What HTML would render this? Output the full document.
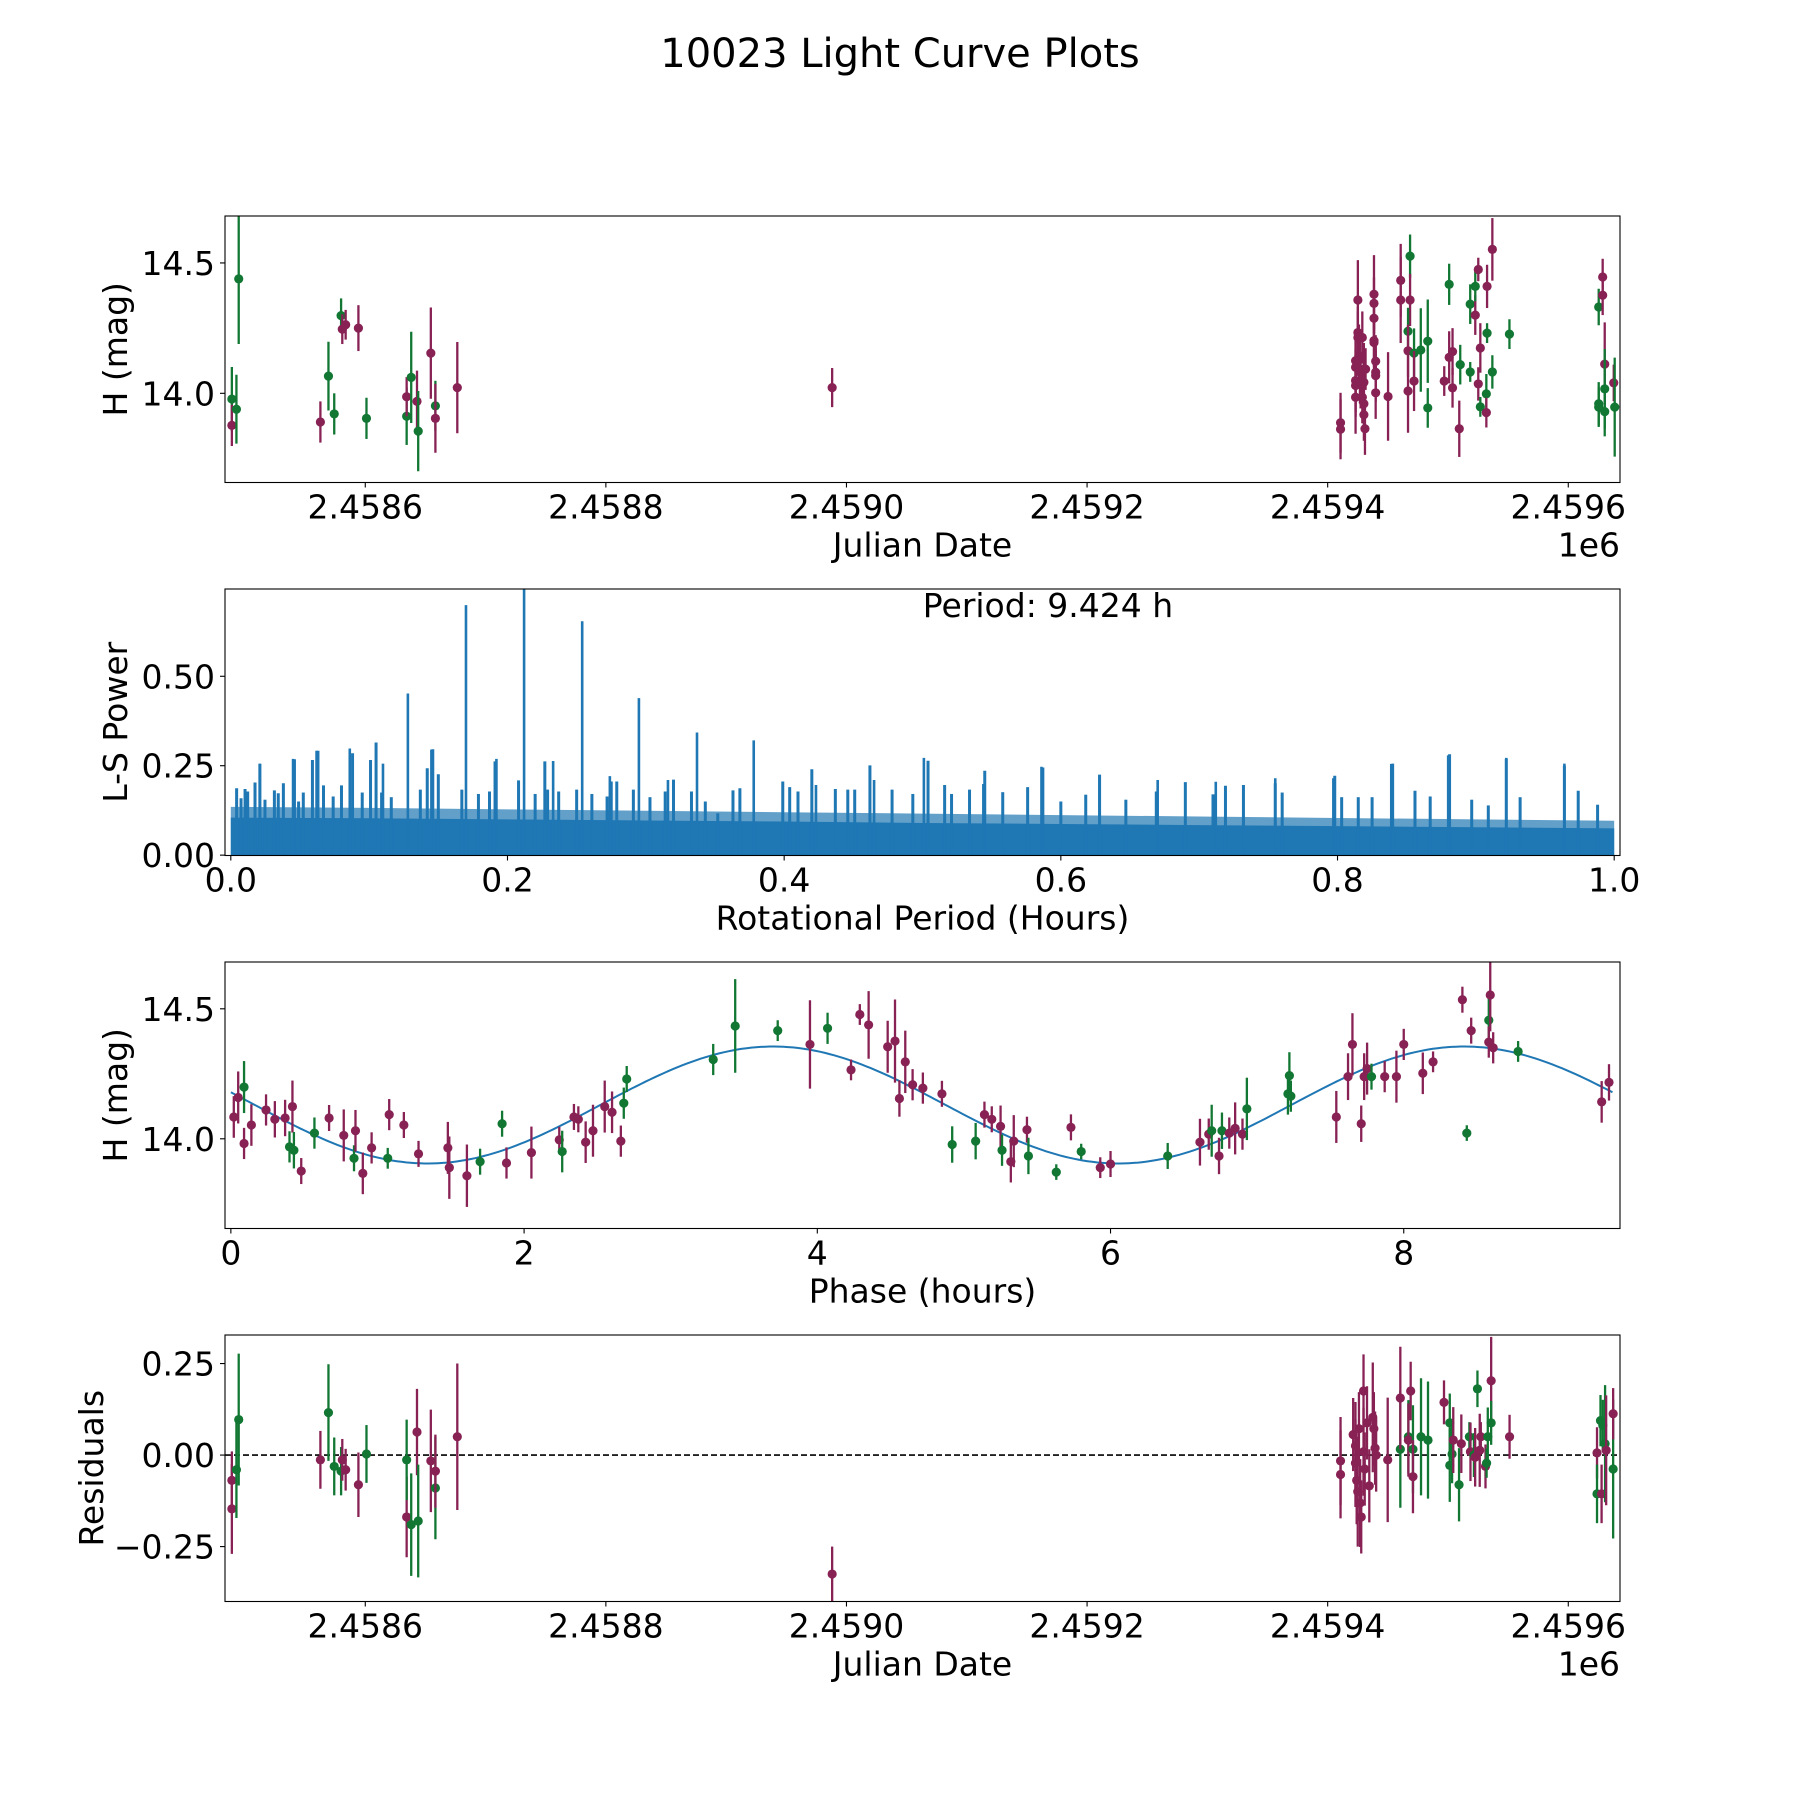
<!DOCTYPE html>
<html><head><meta charset="utf-8"><title>10023 Light Curve Plots</title>
<style>html,body{margin:0;padding:0;background:#fff}svg{display:block;font-family:"DejaVu Sans","Liberation Sans",sans-serif}</style>
</head><body>
<svg id="fig" width="1800" height="1800" viewBox="0 0 1800 1800" xmlns="http://www.w3.org/2000/svg">
<rect width="1800" height="1800" fill="#fff"/>
<text x="900" y="67" font-size="40" text-anchor="middle">10023 Light Curve Plots</text>
</svg>
<script>
// ---- Panel 1: light curve (JD - 2458000) ----
const lcJD=[489.1,489.1,492.9,494.8,562.7,569.4,574.2,579.9,580.9,583.7,594.3,601,634.4,634.4,638.2,643,644,654.5,658.3,658.3,676.5,988.1,
1410.7,1410.7,1423.2,1423.2,1423.2,1423.2,1423.2,1425.1,1425.1,1425.1,1426,1426.8,1427.4,1428.8,1428.8,1430.1,1430.1,1430.1,1430.1,1431,1431.5,
1438.5,1438.5,1438.5,1438.5,1438.5,1439.9,1439.9,1439.9,1439.9,1450.2,1460.7,1460.7,1468.5,1468.5,1466.8,1466.8,1466.8,1471.8,1471.8,1477.4,1483.2,1483.2,
1496.9,1501,1501,1503.8,1503.8,1510.2,1509.4,1518.5,1518.5,1522.7,1522.7,1525.2,1525.2,1526.9,1526.9,1531.9,1531.9,1532.5,1532.5,1536.9,1536.9,1551.1,
1625.3,1628.6,1628.6,1630.3,1630.3,1625.3,1625.3,1630.3,1637.8,1638.6];
const lcMag=[13.978,13.877,13.939,14.439,13.89,14.066,13.921,14.298,14.246,14.263,14.25,13.904,13.912,13.987,14.061,13.969,13.855,14.154,13.952,13.904,14.022,14.022,
13.887,13.862,14.125,14.100,14.049,14.030,13.985,14.358,14.233,14.214,14.144,14.081,14.042,14.214,13.985,14.093,14.042,13.960,13.918,13.864,14.093,
14.38,14.345,14.288,14.202,14.195,14.123,14.081,14.068,14.002,13.988,14.433,14.358,14.526,14.358,14.238,14.163,14.009,14.154,14.047,14.166,14.2,13.944,
14.047,14.138,14.418,14.16,14.021,14.11,13.864,14.342,14.082,14.30,14.41,14.475,14.036,13.948,14.174,13.998,13.926,14.231,14.41,14.082,14.552,14.227,
14.331,14.446,14.376,14.112,14.017,13.96,13.947,13.93,14.04,13.947];
const lcErr=[.123,.079,.132,.25,.079,.132,.079,.066,.057,.057,.088,.079,.11,.075,.175,.118,.154,.175,.096,.132,.175,.075,
.115,.115,.1,.1,.12,.12,.14,.153,.1,.1,.12,.12,.1,.1,.1,.1,.1,.1,.1,.1,.08,
.15,.1,.1,.1,.1,.1,.1,.1,.1,.17,.14,.165,.083,.1,.09,.1,.16,.095,.115,.16,.16,.076,
.057,.1,.079,.09,.076,.076,.108,.076,.038,.076,.057,.045,.064,.038,.095,.076,.057,.038,.083,.064,.12,.057,
.07,.07,.076,.16,.153,.083,.076,.095,.07,.19];
const lcBand="gmggmgggmmmggmgmgmgmmm"+"mmmmmmmmmmmmmmmmmmmmm"+"mmmmmmmmmmmmgmgmmgmgggm"+"mgmmgmggmgmmgmgmgmgmgg"+"mmmggggmgm";

// ---- Panel 2: periodogram ----
const lsSpikeX=[0.128,0.170,0.212,0.254,0.295,0.337,0.378,0.086,0.145,0.192,0.233,0.274,0.062,0.045,0.021,0.110,0.316,0.501,0.586,0.628,0.840,0.880,0.922,0.964,0.797,0.755,0.670,0.712,0.423,0.465,0.544];
const lsSpikeH=[0.452,0.699,0.744,0.654,0.439,0.343,0.321,0.298,0.295,0.269,0.263,0.221,0.292,0.269,0.256,0.256,0.210,0.272,0.247,0.224,0.256,0.279,0.272,0.256,0.215,0.215,0.210,0.205,0.196,0.210,0.199];
const lsMinorX=[.0042,.0074,.0103,.0122,.0175,.021,.0247,.0315,.0343,.038,.046,.049,.0524,.059,.063,.067,.074,.080,.088,.095,.101,.105,.109,.116,.137,.142,.146,.150,.167,.179,.187,.191,.208,.220,.227,.229,.237,.250,.261,.272,.275,.279,.291,.303,.314,.320,.333,.343,.352,
.363,.368,.399,.404,.410,.420,.437,.446,.451,.462,.478,.493,.504,.516,.521,.534,.545,.558,.576,.587,.600,.618,.628,.647,.669,.690,.710,.719,.732,.755,.760,.798,.803,.815,.825,.839,.856,.867,.881,.897,.909,.922,.932,.964,.974,.988];
const lsMinorH=[.187,.159,.185,.178,.203,.255,.155,.181,.173,.201,.268,.150,.175,.266,.292,.195,.164,.195,.285,.175,.266,.315,.175,.162,.183,.243,.296,.226,.183,.171,.178,.262,.209,.171,.262,.183,.178,.183,.171,.164,.206,.206,.183,.162,.178,.211,.178,.150,.117,
.181,.187,.206,.190,.178,.240,.185,.183,.183,.251,.183,.171,.264,.196,.171,.183,.236,.176,.190,.245,.150,.169,.225,.155,.178,.204,.170,.194,.196,.201,.175,.222,.162,.162,.162,.255,.180,.164,.282,.155,.139,.269,.162,.250,.180,.141];
const lsEnvX=[0,0.1,0.2,0.3,0.4,0.5,0.6,0.7,0.8,0.9,1.0];
const lsDense=[0.105,0.103,0.1,0.097,0.094,0.09,0.087,0.084,0.081,0.078,0.075];
const lsUpper=[0.135,0.132,0.128,0.124,0.12,0.116,0.112,0.108,0.104,0.1,0.096];

// ---- Panel 3: phased ----
const phX=[.02,.05,.09,.09,.14,.24,.30,.37,.40,.42,.43,.48,.57,.67,.77,.84,.85,.90,.96,1.07,1.08,1.18,1.28,1.48,1.49,1.61,1.70,1.85,1.88,2.05,2.24,2.26,2.34,2.37,2.42,2.47,2.55,2.60,2.66,2.68,2.70,3.29,3.44,3.73,3.95,4.07,4.23,4.29,4.35,4.48,4.53,4.56,4.60,4.65,4.72,4.85,4.92,5.08,5.14,5.19,5.25,5.26,5.32,5.34,5.43,5.44,5.63,5.73,5.80,5.93,6.00,6.39,6.61,6.67,6.69,6.74,6.76,6.81,6.85,6.90,6.93,7.21,7.22,7.23,7.54,7.62,7.65,7.71,7.73,7.75,7.78,7.87,7.95,8.00,8.13,8.20,8.40,8.43,8.46,8.58,8.58,8.59,8.61,8.78,9.35,9.40];
const phMag=[14.084,14.159,14.199,13.982,14.053,14.111,14.075,14.08,13.969,14.124,13.956,13.876,14.022,14.08,14.013,13.925,14.031,13.867,13.965,13.925,14.093,14.053,13.942,13.965,13.889,13.858,13.912,14.058,13.907,13.947,13.996,13.951,14.084,14.075,13.987,14.031,14.124,14.102,13.991,14.137,14.23,14.305,14.434,14.416,14.363,14.425,14.265,14.478,14.438,14.354,14.376,14.155,14.296,14.208,14.195,14.173,13.978,13.991,14.093,14.075,14.048,13.956,13.912,13.991,14.035,13.934,13.872,14.044,13.951,13.889,13.903,13.934,13.987,14.018,14.031,13.934,14.031,14.022,14.04,14.018,14.115,14.173,14.243,14.164,14.084,14.239,14.363,14.058,14.239,14.27,14.239,14.239,14.239,14.363,14.252,14.296,14.535,14.022,14.416,14.456,14.372,14.553,14.35,14.336,14.142,14.217];
const phErr=[.08,.1,.1,.06,.08,.06,.07,.07,.06,.1,.07,.05,.06,.05,.1,.05,.08,.08,.06,.04,.06,.05,.05,.1,.12,.12,.05,.05,.06,.1,.05,.08,.05,.05,.08,.1,.1,.08,.06,.06,.05,.06,.18,.04,.17,.06,.04,.04,.13,.1,.16,.07,.12,.06,.06,.05,.07,.07,.05,.05,.08,.06,.08,.1,.05,.07,.03,.05,.03,.04,.05,.05,.09,.06,.1,.07,.07,.06,.1,.06,.12,.08,.09,.06,.1,.09,.12,.07,.09,.1,.05,.06,.1,.06,.08,.04,.05,.03,.05,.1,.06,.14,.06,.04,.08,.07];
const phBand="mmgmmmmmgmgmgmmgmmmgmmmmmmggmmmgmmmmmmmgggggmgmmmmmmmmmmggmmmgmmmggmgmmgmmgmgmmmggggmmmmmmgmmmmmmgmgmmmgmmgmgmmgmgmmmm";
const fitMean=14.13, fitAmp=0.225, fitPeriod=9.424, fitT0=2.52;

// ---- Panel 4: residuals ----
const rsJD=[489.1,489.1,492.9,494.8,562.7,569.4,574.2,579.9,580.9,583.7,594.3,601,634.4,634.4,638.2,643,644,654.5,658.3,658.3,676.5,988.1,
1410.7,1410.7,1421.2,1423.1,1423.1,1424.1,1425,1426,1427,1427.9,1429.8,1429.8,1430.8,1432.7,1434.6,1437.5,1438.4,1439.4,1440.3,1449.9,
1460.4,1460.4,1467.1,1467.1,1469,1470.9,1470.9,1477.6,1483.4,1496.7,1501.5,1501.5,1503.4,1504.4,1509.2,1511.1,1517.8,1518.7,1521.6,1522.6,1524.5,1526.4,1527.3,1531.2,1532.1,1533.1,1535.9,1535.9,1551.2,
1623.9,1626.8,1623.9,1627.7,1628.7,1630.6,1631.5,1637.3,1637.3];
const rsVal=[-.069,-.147,-.04,.097,-.013,.116,-.031,-.044,-.013,-.04,-.081,.003,-.169,-.013,-.19,.063,-.18,-.016,-.09,-.044,.05,-.325,
-.016,-.053,.056,.025,-.022,-.069,-.1,.072,-.131,-.169,.175,.009,-.038,.088,-.084,.103,.072,.019,0,-.013,
.016,.156,.05,.041,.175,.016,-.059,.05,.041,.144,.088,-.028,.003,.041,-.081,.031,.05,.009,0,-.006,.181,.013,.05,-.031,-.022,.05,.203,.088,.05,
.006,.094,-.106,-.106,.081,.031,.013,-.038,.113];
const rsErr=[.079,.123,.132,.18,.079,.132,.079,.066,.057,.057,.088,.079,.11,.11,.14,.118,.154,.14,.14,.1,.2,.075,
.12,.12,.1,.12,.12,.12,.15,.1,.12,.1,.1,.12,.1,.1,.1,.15,.1,.1,.1,.17,
.16,.14,.1,.1,.08,.12,.1,.16,.16,.06,.08,.1,.08,.09,.1,.08,.04,.08,.06,.08,.05,.1,.04,.06,.04,.08,.12,.06,.06,
.07,.07,.08,.08,.07,.16,.15,.19,.07];
const rsBand="mmggmgggmmmgmggmgmgmmm"+"mmmmmmmmmmmmmmmmmmmm"+"gmgmmgmggmgggmgmgmgmgmmmggmg"+"mmggmggmg";

const NS="http://www.w3.org/2000/svg";
const svg=document.getElementById('fig');
const COL={g:'#117733',m:'#882255'};
const L=225,R=1620;
function mk(tag,attrs,parent){const e=document.createElementNS(NS,tag);for(const k in attrs)e.setAttribute(k,attrs[k]);(parent||svg).appendChild(e);return e;}
function panel(id,top,bot,xmin,xmax,ymin,ymax){
  const p={id,top,bot,xmin,xmax,ymin,ymax};
  p.sx=v=>L+(v-xmin)/(xmax-xmin)*(R-L);
  p.sy=v=>bot-(v-ymin)/(ymax-ymin)*(bot-top);
  const cp=mk('clipPath',{id:'clip-'+id});mk('rect',{x:L,y:top,width:R-L,height:bot-top},cp);
  p.g=mk('g',{'clip-path':'url(#clip-'+id+')'});
  
  
  return p;
}
function frame(p,xt,xl,yt,yl,xlabel,ylabel,ylabelX,offset){
  const f=mk('rect',{x:L,y:p.top,width:R-L,height:p.bot-p.top,fill:'none',stroke:'#000','stroke-width':1.1});
  
  
  xt.forEach((v,i)=>{const x=p.sx(v);
    mk('line',{x1:x,x2:x,y1:p.bot,y2:p.bot+5,stroke:'#000','stroke-width':1.1});
    const t=mk('text',{x:x,y:p.bot+36,'font-size':33,'text-anchor':'middle'});t.textContent=xl[i];
    
    });
  yt.forEach((v,i)=>{const y=p.sy(v);
    mk('line',{x1:L-5,x2:L,y1:y,y2:y,stroke:'#000','stroke-width':1.1});
    const t=mk('text',{x:L-10,y:y+12,'font-size':33,'text-anchor':'end'});t.textContent=yl[i];
    
    });
  const xlab=mk('text',{x:(L+R)/2,y:p.bot+74,'font-size':33,'text-anchor':'middle'});xlab.textContent=xlabel;
  
  
  const cy=(p.top+p.bot)/2;
  const ylab=mk('text',{x:ylabelX,y:cy,'font-size':33,'text-anchor':'middle',transform:'rotate(-90 '+ylabelX+' '+cy+')'});ylab.textContent=ylabel;
  
  
  if(offset){const o=mk('text',{x:R,y:p.bot+74,'font-size':33,'text-anchor':'end'});o.textContent=offset;
    
    }
}
function errpts(p,xs,ys,es,bands,name){
  xs.forEach((x,i)=>{const c=COL[bands[i]]||COL.m;const X=p.sx(x);
    const l=mk('line',{x1:X,x2:X,y1:p.sy(ys[i]-es[i]),y2:p.sy(ys[i]+es[i]),stroke:c,'stroke-width':2.3},p.g);
    
    
    const d=mk('circle',{cx:X,cy:p.sy(ys[i]),r:4.6,fill:c},p.g);
    
    });
}
const jdT=[600,800,1000,1200,1400,1600],jdL=['2.4586','2.4588','2.4590','2.4592','2.4594','2.4596'];

// Panel 1
const p1=panel('light-curve',216,482.5,483.4,1643,13.658,14.68);
errpts(p1,lcJD,lcMag,lcErr,lcBand,'light-curve');
frame(p1,jdT,jdL,[14.0,14.5],['14.0','14.5'],'Julian Date','H (mag)',127,'1e6');

// Panel 2
const p2=panel('periodogram',589,855.5,-0.0042,1.0042,-0.001,0.744);
(function(){
  let up='M'+p2.sx(lsEnvX[0])+' '+p2.sy(0);lsEnvX.forEach((x,i)=>up+=' L'+p2.sx(x)+' '+p2.sy(lsUpper[i]));up+=' L'+p2.sx(1)+' '+p2.sy(0)+'Z';
  const a=mk('path',{d:up,fill:'#1f77b4','fill-opacity':0.7},p2.g);
  
  
  let dn='M'+p2.sx(lsEnvX[0])+' '+p2.sy(0);lsEnvX.forEach((x,i)=>dn+=' L'+p2.sx(x)+' '+p2.sy(lsDense[i]));dn+=' L'+p2.sx(1)+' '+p2.sy(0)+'Z';
  const b=mk('path',{d:dn,fill:'#1f77b4'},p2.g);
  
  
  lsMinorX.forEach((x,i)=>{const X=p2.sx(x);
    const s=mk('line',{x1:X,x2:X,y1:p2.sy(0),y2:p2.sy(lsMinorH[i]),stroke:'#1f77b4','stroke-width':3},p2.g);
    
    });
  lsSpikeX.forEach((x,i)=>{const X=p2.sx(x);
    const s=mk('line',{x1:X,x2:X,y1:p2.sy(0),y2:p2.sy(lsSpikeH[i]),stroke:'#1f77b4','stroke-width':2.6},p2.g);
    
    });
})();
frame(p2,[0,0.2,0.4,0.6,0.8,1.0],['0.0','0.2','0.4','0.6','0.8','1.0'],[0,0.25,0.5],['0.00','0.25','0.50'],'Rotational Period (Hours)','L-S Power',127);
const per=mk('text',{x:1048,y:617,'font-size':33,'text-anchor':'middle'});per.textContent='Period: 9.424 h';



// Panel 3
const p3=panel('phased-curve',962,1228.5,-0.04,9.475,13.655,14.68);
(function(){
  let d='';const n=300;
  for(let k=0;k<=n;k++){const t=k/n*fitPeriod;const v=fitMean+fitAmp*Math.sin(4*Math.PI*(t-fitT0)/fitPeriod);
    d+=(k?' L':'M')+p3.sx(t).toFixed(1)+' '+p3.sy(v).toFixed(1);}
  const c=mk('path',{d:d,fill:'none',stroke:'#1f77b4','stroke-width':2},p3.g);
  
  
})();
errpts(p3,phX,phMag,phErr,phBand,'phased');
frame(p3,[0,2,4,6,8],['0','2','4','6','8'],[14.0,14.5],['14.0','14.5'],'Phase (hours)','H (mag)',127);

// Panel 4
const p4=panel('residuals',1335,1601.5,483.4,1643,-0.40,0.328);
const zl=mk('line',{x1:L,x2:R,y1:p4.sy(0),y2:p4.sy(0),stroke:'#000','stroke-width':1.6,'stroke-dasharray':'6,3'},p4.g);


errpts(p4,rsJD,rsVal,rsErr,rsBand,'residual');
frame(p4,jdT,jdL,[-0.25,0,0.25],['\u22120.25','0.00','0.25'],'Julian Date','Residuals',103,'1e6');
</script>
</body></html>
